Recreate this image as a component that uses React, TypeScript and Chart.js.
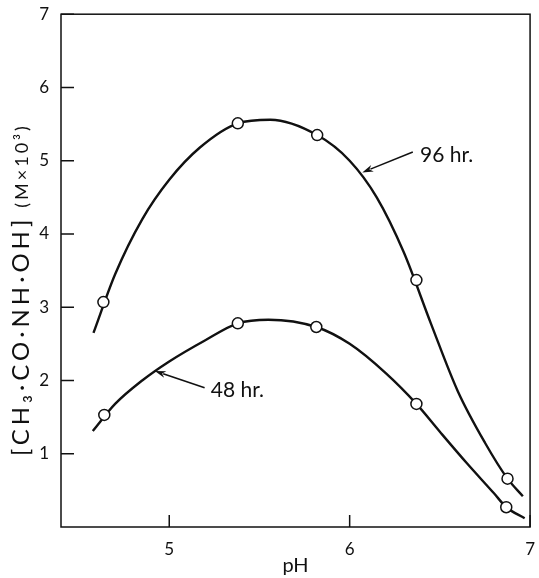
import React, { useEffect, useRef } from "react";
import { Chart, registerables } from "chart.js";

Chart.register(...registerables);

// Measured markers
const ph96 = [4.635, 5.38, 5.82, 6.37, 6.875];
const conc96 = [3.07, 5.51, 5.35, 3.37, 0.66];
const ph48 = [4.64, 5.38, 5.815, 6.37, 6.868];
const conc48 = [1.53, 2.78, 2.73, 1.68, 0.27];

// Points
const curve96X = [4.58, 4.7, 4.85, 5.0, 5.17, 5.38, 5.56, 5.82, 6.0, 6.15, 6.3, 6.45, 6.6, 6.75, 6.875, 6.96];
const curve96Y = [2.65, 3.45, 4.2, 4.74, 5.18, 5.51, 5.56, 5.35, 5.0, 4.5, 3.75, 2.78, 1.85, 1.15, 0.66, 0.42];
const curve48X = [4.576, 4.7, 4.85, 5.0, 5.2, 5.38, 5.55, 5.815, 6.0, 6.2, 6.37, 6.5, 6.65, 6.8, 6.868, 6.97];
const curve48Y = [1.31, 1.68, 2.0, 2.26, 2.55, 2.78, 2.83, 2.73, 2.5, 2.1, 1.68, 1.3, 0.87, 0.46, 0.27, 0.12];

const xTicks = [5, 6, 7];
const yTicks = [1, 2, 3, 4, 5, 6, 7];

const labels = [
  { text: "96 hr.", tx: 6.39, ty: 5.07, fromX: 6.35, fromY: 5.12, toX: 6.07, toY: 4.84 },
  { text: "48 hr.", tx: 5.23, ty: 1.87, fromX: 5.196, fromY: 1.9, toX: 4.92, toY: 2.13 },
];

const FONT = "Lato, 'Open Sans', 'DejaVu Sans', sans-serif";
const INK = "#111";

const pts = (xs: number[], ys: number[]) => xs.map((x, i) => ({ x, y: ys[i] }));

const framePlugin = {
  id: "frame",
  afterDraw(chart: any) {
    const { ctx, chartArea: a, scales } = chart;
    const xs = scales.x, ys = scales.y;
    ctx.save();
    ctx.strokeStyle = INK;
    ctx.lineWidth = 1.5;
    ctx.strokeRect(a.left, a.top, a.right - a.left, a.bottom - a.top);
    ctx.beginPath();
    yTicks.forEach((v) => {
      const py = ys.getPixelForValue(v);
      ctx.moveTo(a.left, py);
      ctx.lineTo(a.left + 13, py);
    });
    xTicks.forEach((v) => {
      const px = xs.getPixelForValue(v);
      ctx.moveTo(px, a.bottom);
      ctx.lineTo(px, a.bottom - 12);
    });
    ctx.stroke();

    ctx.fillStyle = INK;
    ctx.strokeStyle = INK;
    labels.forEach((l) => {
      const x0 = xs.getPixelForValue(l.fromX), y0 = ys.getPixelForValue(l.fromY);
      const x1 = xs.getPixelForValue(l.toX), y1 = ys.getPixelForValue(l.toY);
      const ang = Math.atan2(y1 - y0, x1 - x0);
      const c = Math.cos(ang), s = Math.sin(ang);
      const hl = 11, hw = 3.5;
      ctx.lineWidth = 1.6;
      ctx.beginPath();
      ctx.moveTo(x0, y0);
      ctx.lineTo(x1 - c * hl * 0.8, y1 - s * hl * 0.8);
      ctx.stroke();
      ctx.beginPath();
      ctx.moveTo(x1, y1);
      ctx.lineTo(x1 - c * hl - s * hw, y1 - s * hl + c * hw);
      ctx.lineTo(x1 - c * hl * 0.7, y1 - s * hl * 0.7);
      ctx.lineTo(x1 - c * hl + s * hw, y1 - s * hl - c * hw);
      ctx.closePath();
      ctx.fill();
      ctx.font = `21px ${FONT}`;
      ctx.textAlign = "left";
      ctx.textBaseline = "middle";
      ctx.fillText(l.text, xs.getPixelForValue(l.tx), ys.getPixelForValue(l.ty));
    });

    // y axis title with mixed sizes
    ctx.save();
    ctx.translate(21, 456);
    ctx.rotate(-Math.PI / 2);
    ctx.textAlign = "left";
    ctx.textBaseline = "middle";
    ctx.font = `24px ${FONT}`;
    const main = "[CH₃·CO·NH·OH]";
    (ctx as any).letterSpacing = "4px";
    ctx.fillText(main, 0, 0);
    const w = ctx.measureText(main).width;
    ctx.font = `18px ${FONT}`;
    (ctx as any).letterSpacing = "3px";
    ctx.fillText("(M×10³)", w + 8, 1);
    ctx.restore();
    ctx.restore();
  },
};

export default function App() {
  const ref = useRef<HTMLCanvasElement>(null);
  useEffect(() => {
    if (!ref.current) return;
    const line = { borderColor: INK, borderWidth: 2.4, pointRadius: 0, showLine: true, fill: false, cubicInterpolationMode: "monotone" as const, order: 2 };
    const marker = { showLine: false, pointRadius: 5.5, pointBackgroundColor: "#fff", pointBorderColor: INK, pointBorderWidth: 1.5, pointStyle: "circle" as const, order: 1 };
    const chart = new Chart(ref.current, {
      type: "scatter",
      data: {
        datasets: [
          { label: "96 hr curve", data: pts(curve96X, curve96Y), ...line },
          { label: "48 hr curve", data: pts(curve48X, curve48Y), ...line },
          { label: "96 hr.", data: pts(ph96, conc96), ...marker },
          { label: "48 hr.", data: pts(ph48, conc48), ...marker },
        ],
      },
      options: {
        animation: false,
        responsive: false,
        layout: { padding: { top: 14, right: 2, left: 0, bottom: 0 } },
        plugins: { legend: { display: false }, tooltip: { enabled: false } },
        scales: {
          x: {
            type: "linear",
            min: 4.4,
            max: 7,
            afterBuildTicks: (s: any) => { s.ticks = xTicks.map((v) => ({ value: v })); },
            afterFit: (s: any) => { s.height = 51; },
            grid: { display: false },
            border: { display: false },
            ticks: { color: INK, font: { family: FONT, size: 17 }, padding: 4 },
            title: { display: true, text: "pH", color: INK, font: { family: FONT, size: 20 }, padding: { top: 2, bottom: 0 } },
          },
          y: {
            type: "linear",
            min: 0,
            max: 7,
            afterBuildTicks: (s: any) => { s.ticks = yTicks.map((v) => ({ value: v })); },
            afterFit: (s: any) => { s.width = 61; },
            grid: { display: false },
            border: { display: false },
            ticks: { color: INK, font: { family: FONT, size: 17 }, padding: 4 },
          },
        },
      },
      plugins: [framePlugin],
    });
    return () => chart.destroy();
  }, []);
  return (
    <div style={{ position: "fixed", left: 0, top: 0, width: 539, height: 578, background: "#fff" }}>
      <canvas ref={ref} width={539} height={578} style={{ width: 539, height: 578 }} />
    </div>
  );
}
